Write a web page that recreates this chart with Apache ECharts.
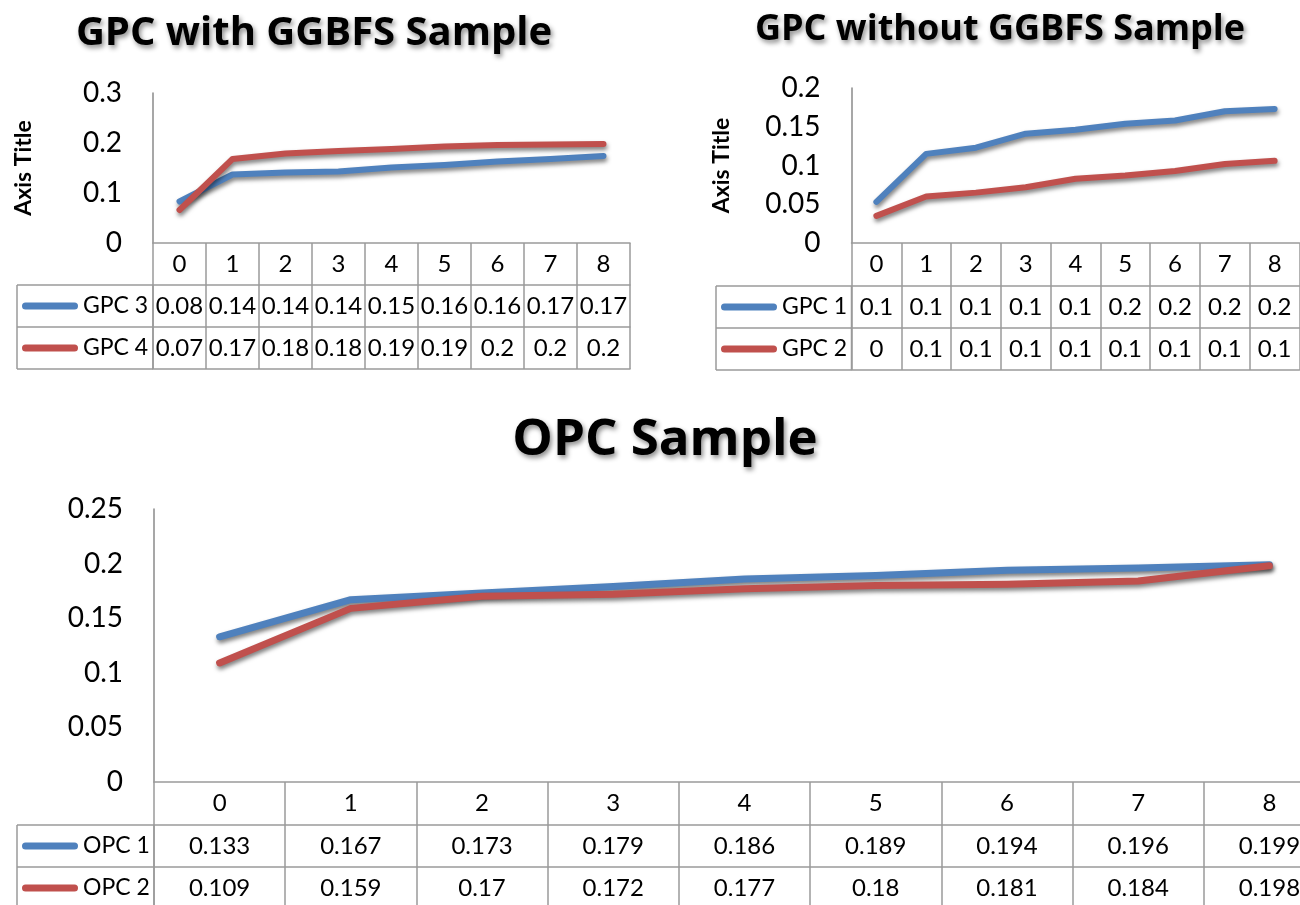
<!DOCTYPE html>
<html><head><meta charset="utf-8">
<script src="https://cdn.jsdelivr.net/npm/echarts@6/dist/echarts.min.js"></script>
<style>html,body{margin:0;padding:0;background:#fff}#c{width:1300px;height:905px}</style>
</head><body><div id="c"></div>
<script>
// ---- data ----
const categories = ['0','1','2','3','4','5','6','7','8'];
const gpc3 = [0.083,0.137,0.141,0.143,0.151,0.156,0.163,0.168,0.174];
const gpc4 = [0.066,0.168,0.179,0.184,0.188,0.193,0.196,0.197,0.198];
const gpc1 = [0.053,0.115,0.123,0.141,0.146,0.154,0.158,0.170,0.173];
const gpc2 = [0.035,0.060,0.065,0.072,0.083,0.087,0.093,0.102,0.106];
const opc1 = [0.133,0.167,0.173,0.179,0.186,0.189,0.194,0.196,0.199];
const opc2 = [0.109,0.159,0.17,0.172,0.177,0.18,0.181,0.184,0.198];
const titles = ['GPC with GGBFS Sample','GPC without GGBFS Sample','OPC Sample'];
const seriesNames = [['GPC 3','GPC 4'],['GPC 1','GPC 2'],['OPC 1','OPC 2']];
const seriesData = [[gpc3,gpc4],[gpc1,gpc2],[opc1,opc2]];
const yRanges = [[0,0.3,0.1],[0,0.2,0.05],[0,0.25,0.05]];
const yNames = ['Axis Title','Axis Title',''];
const tableDecimals = [2,1,3];

// ---- layout / style ----
const colors = ['#4F81BD','#C0504D'];
const lineCol = '#9a9a9a';
const axisCol = '#8a8a8a';
const FONT = 'Lato, "Open Sans", sans-serif';
const panels = [
  {left:153, top:93, width:477, height:150, colLeft:17, tx:314, ty:34, ts:40, lw:6, H:42, R:42},
  {left:851.5, top:88, width:448, height:155, colLeft:716, tx:1000, ty:30, ts:36, lw:6, H:43, R:42},
  {left:154, top:509, width:1181, height:273, colLeft:17, tx:665, ty:440, ts:51, lw:7, H:43, R:42}
];

const grid=[], xAxis=[], yAxis=[], series=[], legend=[], title=[], graphic=[];
panels.forEach((p,g)=>{
  const fmt = v => String(parseFloat(v.toFixed(tableDecimals[g])));
  const B = p.top + p.height;
  grid.push({left:p.left, top:p.top, width:p.width, height:p.height, containLabel:false, outerBoundsMode:'none'});
  title.push({text:titles[g], left:p.tx, top:p.ty - p.ts*0.6, textAlign:'center', padding:0,
    textStyle:{fontFamily:'"Open Sans", sans-serif', fontWeight:'bold', fontSize:p.ts, lineHeight:p.ts*1.2, color:'#000',
      textShadowColor:'rgba(0,0,0,0.45)', textShadowBlur:5, textShadowOffsetX:2, textShadowOffsetY:3}});
  const base = xAxis.length;
  const tableH = p.H + 2*p.R;
  xAxis.push({gridIndex:g, type:'category', data:categories, position:'bottom', boundaryGap:true,
    axisLine:{onZero:false, lineStyle:{color:lineCol, width:1.5}},
    axisTick:{show:true, interval:0, length:tableH, lineStyle:{color:lineCol, width:1.5}},
    axisLabel:{interval:0, margin:p.H/2, verticalAlign:'middle', fontSize:24, color:'#000', fontFamily:FONT}});
  seriesData[g].forEach((arr,k)=>{
    xAxis.push({gridIndex:g, type:'category', data:categories, position:'bottom', offset:p.H + k*p.R, boundaryGap:true,
      axisLine:{onZero:false, lineStyle:{color:lineCol, width:1.5}}, axisTick:{show:false},
      axisLabel:{interval:0, margin:p.R/2, verticalAlign:'middle', fontSize:24, color:'#000', fontFamily:FONT,
        formatter:(v,i)=>fmt(arr[i])}});
  });
  xAxis.push({gridIndex:g, type:'category', data:categories, position:'bottom', offset:tableH,
    axisLine:{onZero:false, lineStyle:{color:lineCol, width:1.5}}, axisTick:{show:false}, axisLabel:{show:false}});
  yAxis.push({gridIndex:g, type:'value', min:yRanges[g][0], max:yRanges[g][1], interval:yRanges[g][2],
    axisLine:{show:true, lineStyle:{color:axisCol, width:1.5}}, axisTick:{show:false}, splitLine:{show:false},
    axisLabel:{fontSize:28, margin:31, color:'#000', fontFamily:FONT},
    name:yNames[g], nameLocation:'middle', nameGap:118, nameRotate:90,
    nameTextStyle:{fontSize:23, fontWeight:'bold', color:'#000', fontFamily:FONT}});
  seriesData[g].forEach((arr,k)=>{
    series.push({type:'line', name:seriesNames[g][k], xAxisIndex:base, yAxisIndex:g, data:arr,
      showSymbol:false, symbol:'none', smooth:false,
      itemStyle:{color:colors[k]},
      lineStyle:{color:colors[k], width:p.lw, cap:'round', join:'round',
        shadowColor:'rgba(0,0,0,0.5)', shadowBlur:4, shadowOffsetX:1, shadowOffsetY:3},
      emphasis:{disabled:true}});
  });
  legend.push({data:seriesNames[g], orient:'vertical', left:p.colLeft+5, top:B + p.H + p.R/2 - 12,
    itemGap:p.R-24, itemWidth:56, itemHeight:7, padding:0, selectedMode:false,
    icon:'path://M3.5,0H52.5A3.5,3.5,0,0,1,52.5,7H3.5A3.5,3.5,0,0,1,3.5,0Z',
    textStyle:{fontSize:23, lineHeight:24, color:'#000', fontFamily:FONT}});
  // legend column borders
  for(let r=0;r<=2;r++){
    const y = B + p.H + r*p.R;
    graphic.push({type:'line', shape:{x1:p.colLeft, y1:y, x2:p.left, y2:y}, style:{stroke:lineCol, lineWidth:1.5}, silent:true});
  }
  graphic.push({type:'line', shape:{x1:p.colLeft, y1:B+p.H, x2:p.colLeft, y2:B+tableH}, style:{stroke:lineCol, lineWidth:1.5}, silent:true});
  graphic.push({type:'line', shape:{x1:p.left, y1:B+p.H, x2:p.left, y2:B+tableH}, style:{stroke:lineCol, lineWidth:1.5}, silent:true});
});

const chart = echarts.init(document.getElementById('c'), null, {renderer:'canvas'});
chart.setOption({animation:false, backgroundColor:'#fff', title, grid, xAxis, yAxis, series, legend, graphic});
</script></body></html>
